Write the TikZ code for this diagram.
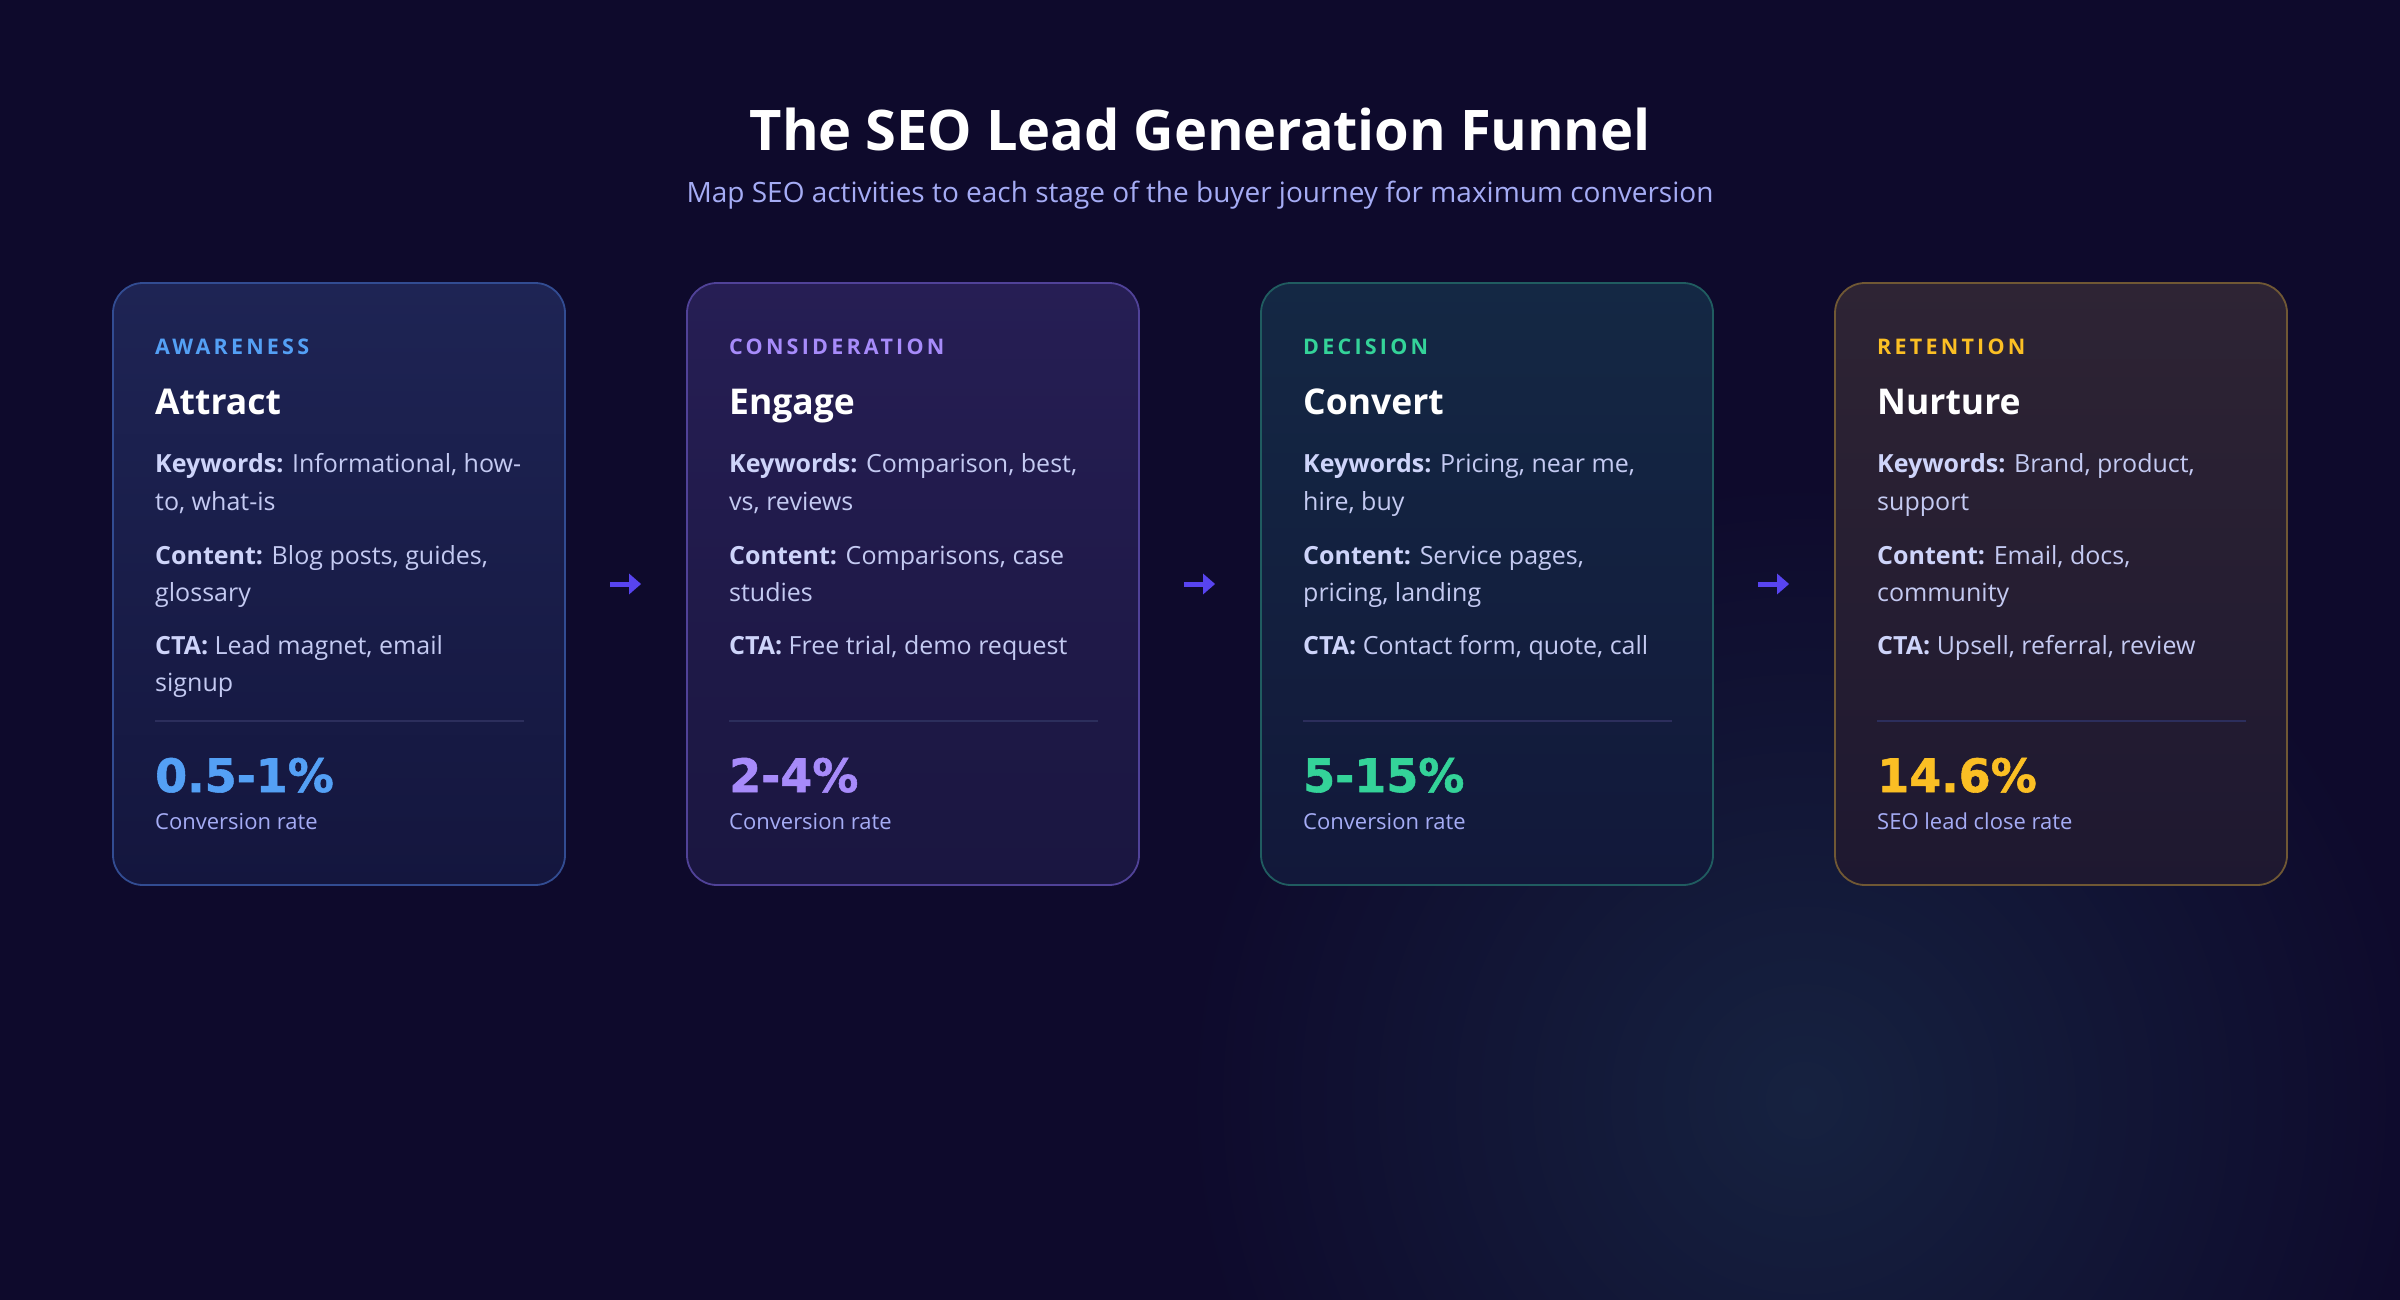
\documentclass[tikz,border=0pt]{standalone}
\usepackage{fontspec}
\setmainfont{Open Sans}
\newfontfamily\numfont{DejaVu Sans}[BoldFeatures={FakeBold=1.2}]
\usetikzlibrary{arrows.meta}
\definecolor{bgc}{RGB}{14,10,44}
\definecolor{glowc}{RGB}{22,34,64}
\definecolor{subc}{RGB}{165,172,245}
\definecolor{bodyc}{RGB}{196,202,242}
\definecolor{boldc}{RGB}{206,212,250}
\definecolor{arrowc}{RGB}{88,68,240}
\definecolor{divc}{RGB}{44,46,92}
\definecolor{aTop}{RGB}{30,36,84}\definecolor{aBot}{RGB}{20,22,62}\definecolor{aBrd}{RGB}{50,76,146}\definecolor{aAcc}{RGB}{84,160,245}
\definecolor{bTop}{RGB}{38,30,84}\definecolor{bBot}{RGB}{26,22,64}\definecolor{bBrd}{RGB}{80,66,152}\definecolor{bAcc}{RGB}{167,139,250}
\definecolor{cTop}{RGB}{20,40,68}\definecolor{cBot}{RGB}{18,24,58}\definecolor{cBrd}{RGB}{32,92,96}\definecolor{cAcc}{RGB}{52,211,153}
\definecolor{dTop}{RGB}{46,36,52}\definecolor{dBot}{RGB}{30,24,48}\definecolor{dBrd}{RGB}{112,88,52}\definecolor{dAcc}{RGB}{251,191,36}
\tikzset{
  card/.style={rounded corners=30pt, minimum width=452pt, minimum height=602pt, line width=1.8pt, inner sep=0pt},
  stagelbl/.style={anchor=base west, inner sep=0pt, font=\fontsize{21.5}{24}\selectfont\bfseries\addfontfeatures{LetterSpace=15}},
  stagettl/.style={anchor=base west, inner sep=0pt, text=white, font=\fontsize{35.5}{40}\selectfont\bfseries},
  bodyln/.style={anchor=base west, inner sep=0pt, text=bodyc, font=\fontsize{25}{30}\selectfont},
  bignum/.style={anchor=base west, inner sep=0pt, font=\numfont\bfseries\fontsize{46}{50}\selectfont},
  capt/.style={anchor=base west, inner sep=0pt, text=subc, font=\fontsize{22}{24}\selectfont},
  divider/.style={draw=divc, line width=1.5pt},
  flow/.style={draw=arrowc, line width=5pt, -{Triangle[length=12pt,width=20pt]}, shorten <=44pt, shorten >=45pt},
}
\newcommand{\bl}[1]{{\bfseries\color{boldc}#1}}
\begin{document}
\begin{tikzpicture}[x=1pt,y=-1pt]
\useasboundingbox (0,0) rectangle (2400,1300);
\fill[bgc] (0,0) rectangle (2400,1300);
\begin{scope}
\clip (0,0) rectangle (2400,1300);
\shade[inner color=glowc, outer color=bgc] (1804,1100) circle (620);
\end{scope}

\node[anchor=base, inner sep=0pt, text=white, font=\fontsize{56}{64}\selectfont\bfseries\addfontfeatures{LetterSpace=-0.5}] (title) at (1200,151) {The SEO Lead Generation Funnel};
\node[anchor=base, inner sep=0pt, text=subc, font=\fontsize{28}{32}\selectfont] (subtitle) at (1200,203) {Map SEO activities to each stage of the buyer journey for maximum conversion};

% cards
\node[card, top color=aTop, bottom color=aBot, draw=aBrd] (c1) at (339,584) {};
\node[card, top color=bTop, bottom color=bBot, draw=bBrd] (c2) at (913,584) {};
\node[card, top color=cTop, bottom color=cBot, draw=cBrd] (c3) at (1487,584) {};
\node[card, top color=dTop, bottom color=dBot, draw=dBrd] (c4) at (2061,584) {};

\draw[flow] (c1.east) -- (c2.west);
\draw[flow] (c2.east) -- (c3.west);
\draw[flow] (c3.east) -- (c4.west);

% card 1
\node[stagelbl, text=aAcc] (c1l) at (155,354) {AWARENESS};
\node[stagettl] (c1t) at (155,414) {Attract};
\node[bodyln] (c1k1) at (155,472) {\bl{Keywords:} Informational, how-};
\node[bodyln] (c1k2) at (155,510) {to, what-is};
\node[bodyln] (c1n1) at (155,564) {\bl{Content:} Blog posts, guides,};
\node[bodyln] (c1n2) at (155,601) {glossary};
\node[bodyln] (c1a1) at (155,654) {\bl{CTA:} Lead magnet, email};
\node[bodyln] (c1a2) at (155,691) {signup};
\draw[divider] (155,721) -- (524,721);
\node[bignum, text=aAcc] (c1v) at (155,792) {0.5-1\%};
\node[capt] (c1c) at (155,829) {Conversion rate};

% card 2
\node[stagelbl, text=bAcc] (c2l) at (729,354) {CONSIDERATION};
\node[stagettl] (c2t) at (729,414) {Engage};
\node[bodyln] (c2k1) at (729,472) {\bl{Keywords:} Comparison, best,};
\node[bodyln] (c2k2) at (729,510) {vs, reviews};
\node[bodyln] (c2n1) at (729,564) {\bl{Content:} Comparisons, case};
\node[bodyln] (c2n2) at (729,601) {studies};
\node[bodyln] (c2a1) at (729,654) {\bl{CTA:} Free trial, demo request};
\draw[divider] (729,721) -- (1098,721);
\node[bignum, text=bAcc] (c2v) at (729,792) {2-4\%};
\node[capt] (c2c) at (729,829) {Conversion rate};

% card 3
\node[stagelbl, text=cAcc] (c3l) at (1303,354) {DECISION};
\node[stagettl] (c3t) at (1303,414) {Convert};
\node[bodyln] (c3k1) at (1303,472) {\bl{Keywords:} Pricing, near me,};
\node[bodyln] (c3k2) at (1303,510) {hire, buy};
\node[bodyln] (c3n1) at (1303,564) {\bl{Content:} Service pages,};
\node[bodyln] (c3n2) at (1303,601) {pricing, landing};
\node[bodyln] (c3a1) at (1303,654) {\bl{CTA:} Contact form, quote, call};
\draw[divider] (1303,721) -- (1672,721);
\node[bignum, text=cAcc] (c3v) at (1303,792) {5-15\%};
\node[capt] (c3c) at (1303,829) {Conversion rate};

% card 4
\node[stagelbl, text=dAcc] (c4l) at (1877,354) {RETENTION};
\node[stagettl] (c4t) at (1877,414) {Nurture};
\node[bodyln] (c4k1) at (1877,472) {\bl{Keywords:} Brand, product,};
\node[bodyln] (c4k2) at (1877,510) {support};
\node[bodyln] (c4n1) at (1877,564) {\bl{Content:} Email, docs,};
\node[bodyln] (c4n2) at (1877,601) {community};
\node[bodyln] (c4a1) at (1877,654) {\bl{CTA:} Upsell, referral, review};
\draw[divider] (1877,721) -- (2246,721);
\node[bignum, text=dAcc] (c4v) at (1877,792) {14.6\%};
\node[capt] (c4c) at (1877,829) {SEO lead close rate};
\end{tikzpicture}
\end{document}
